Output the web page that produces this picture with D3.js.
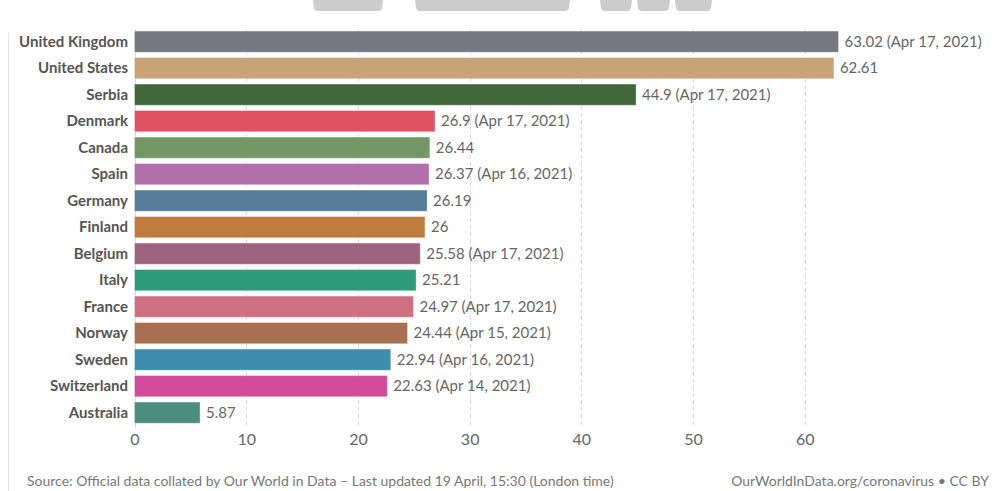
<!DOCTYPE html>
<html>
<head>
<meta charset="utf-8">
<script src="https://cdn.jsdelivr.net/npm/d3@7"></script>
<style>
  body { margin: 0; background: #fff; }
  svg { display: block; font-family: Lato, "Open Sans", sans-serif; }
</style>
</head>
<body>
<div id="chart"></div>
<script>
// data
const countries = [
  'United Kingdom', 'United States', 'Serbia', 'Denmark', 'Canada',
  'Spain', 'Germany', 'Finland', 'Belgium', 'Italy',
  'France', 'Norway', 'Sweden', 'Switzerland', 'Australia'
];
const values = [
  63.02, 62.61, 44.9, 26.9, 26.44,
  26.37, 26.19, 26, 25.58, 25.21,
  24.97, 24.44, 22.94, 22.63, 5.87
];
const dates = [
  'Apr 17, 2021', '', 'Apr 17, 2021', 'Apr 17, 2021', '',
  'Apr 16, 2021', '', '', 'Apr 17, 2021', '',
  'Apr 17, 2021', 'Apr 15, 2021', 'Apr 16, 2021', 'Apr 14, 2021', ''
];
const xTicks = [0, 10, 20, 30, 40, 50, 60];

const COLORS = [
  '#6f727c', // gray
  '#c79f73', // tan
  '#3a6132', // dark green
  '#de4a5d', // red
  '#6d935f', // green
  '#af6aa8', // purple
  '#4f7796', // blue
  '#bc7736', // orange
  '#985e7b', // plum
  '#279874', // teal
  '#cc6a7c', // pink
  '#a5694a', // brown
  '#3587ab', // light blue
  '#d14399', // magenta
  '#46887a'  // sea green
];

const width = 997;
const height = 491;

const svg = d3.select('#chart')
  .append('svg')
    .attr('width', width)
    .attr('height', height);

// cut-off logo shapes at the top edge
const logo = [[313, 383], [415, 570], [600, 632], [637, 670], [675, 712]];
svg.append('g')
  .selectAll('path')
  .data(logo)
  .enter()
  .append('path')
    .attr('d', d => 'M' + d[0] + ',0 L' + d[1] + ',0 L' + (d[1] - 1) + ',8 Q' + (d[1] - 2) + ',11 ' + (d[1] - 5) + ',11'
      + ' L' + (d[0] + 5) + ',11 Q' + (d[0] + 2) + ',11 ' + (d[0] + 1) + ',8 Z')
    .attr('fill', '#cccccc');

// left frame line
svg.append('line')
    .attr('x1', 8.5).attr('x2', 8.5)
    .attr('y1', 33).attr('y2', height)
    .attr('stroke', '#e3e3e3');

const xScale = d3.scaleLinear()
  .domain([0, d3.max(values)])
  .range([134.5, 838.5]);

const yScale = d3.scaleBand()
  .domain(countries)
  .range([28.4, 425.9])
  .paddingInner(0.2)
  .paddingOuter(0.1);

// grid
svg.append('g')
  .selectAll('line')
  .data(xTicks)
  .enter()
  .append('line')
    .attr('x1', d => Math.round(xScale(d)) + 0.5)
    .attr('x2', d => Math.round(xScale(d)) + 0.5)
    .attr('y1', 29)
    .attr('y2', 428)
    .attr('stroke', d => d === 0 ? '#d6d6d6' : '#d9d9d9')
    .attr('stroke-dasharray', d => d === 0 ? null : '4,3');

// bars
svg.append('g')
  .selectAll('rect')
  .data(values)
  .enter()
  .append('rect')
    .attr('x', xScale(0))
    .attr('y', (d, i) => yScale(countries[i]))
    .attr('width', d => xScale(d) - xScale(0))
    .attr('height', yScale.bandwidth())
    .attr('fill', (d, i) => COLORS[i])
    .attr('fill-opacity', 0.96)
    .attr('stroke', '#ffffff')
    .attr('stroke-opacity', 0.35)
    .attr('stroke-width', 1);

// country labels
svg.append('g')
  .selectAll('text')
  .data(countries)
  .enter()
  .append('text')
    .attr('x', 128)
    .attr('y', d => yScale(d) + yScale.bandwidth() / 2)
    .attr('dy', '0.35em')
    .attr('text-anchor', 'end')
    .attr('font-size', 15)
    .attr('font-weight', 700)
    .attr('fill', '#555')
    .text(d => d);

// value labels
svg.append('g')
  .selectAll('text')
  .data(values)
  .enter()
  .append('text')
    .attr('x', d => xScale(d) + 6)
    .attr('y', (d, i) => yScale(countries[i]) + yScale.bandwidth() / 2)
    .attr('dy', '0.35em')
    .attr('font-size', 15)
    .attr('fill', '#666')
    .text((d, i) => dates[i] ? d + ' (' + dates[i] + ')' : d);

// x axis
const xAxis = d3.axisBottom(xScale)
  .tickValues(xTicks)
  .tickSize(0)
  .tickPadding(0);

const axisG = svg.append('g')
    .attr('transform', translate(0, 434))
    .call(xAxis);

axisG.select('.domain').remove();
axisG.selectAll('text')
    .attr('font-family', 'Lato, sans-serif')
    .attr('font-size', 16)
    .attr('fill', '#666')
    .attr('dy', '0.71em');

// footer
svg.append('text')
    .attr('x', 27)
    .attr('y', 486)
    .attr('font-size', 14)
    .attr('fill', '#777')
    .text('Source: Official data collated by Our World in Data – Last updated 19 April, 15:30 (London time)');

svg.append('text')
    .attr('x', 989)
    .attr('y', 486)
    .attr('text-anchor', 'end')
    .attr('font-size', 14)
    .attr('fill', '#777')
    .text('OurWorldInData.org/coronavirus • CC BY');

function translate(x, y) {
  return 'translate(' + x + ',' + y + ')';
}
</script>
</body>
</html>
